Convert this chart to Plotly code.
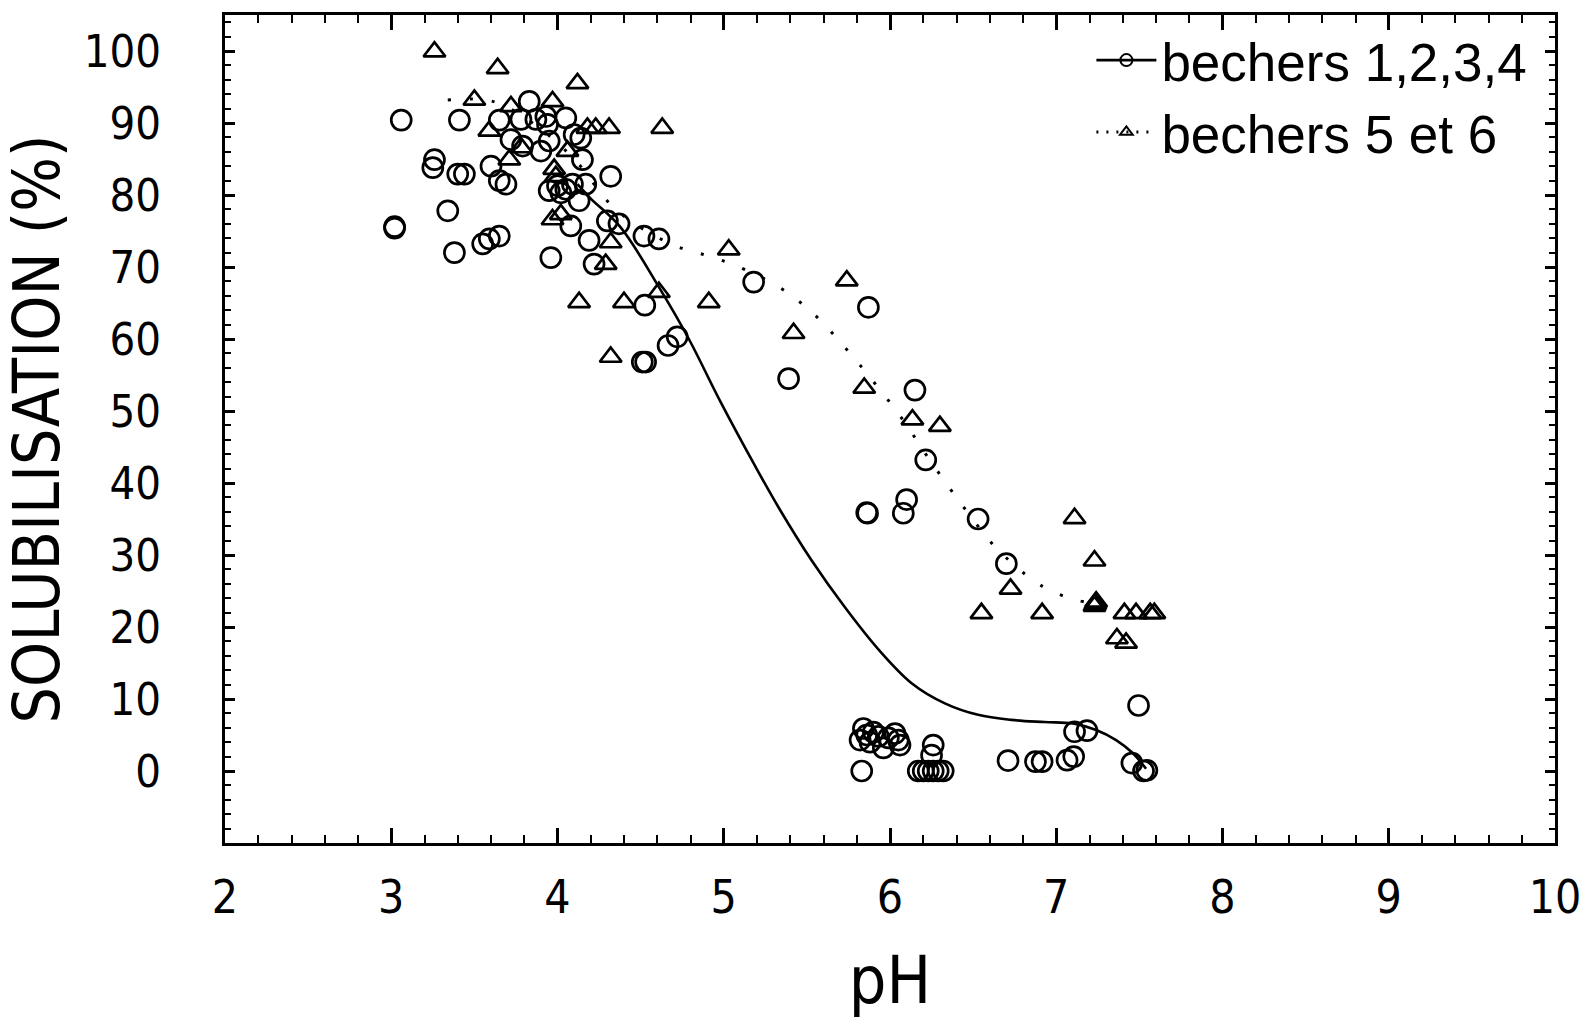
import plotly.graph_objects as go

# --- data ---
circ_ph = [3.02, 3.02, 3.06, 3.26, 3.25, 3.34, 3.38, 3.41, 3.40, 3.44,
           3.55, 3.59, 3.65, 3.60, 3.65, 3.69, 3.65, 3.72, 3.78, 3.79,
           3.83, 3.87, 3.93, 3.94, 3.90, 3.95, 3.96, 3.95, 4.00, 4.02,
           4.05, 4.09, 4.17, 4.05, 4.08, 4.10, 4.14, 4.13, 4.15, 4.19,
           4.22, 4.30, 4.37, 4.32, 4.52, 4.61, 4.525, 4.51, 4.53, 4.665,
           4.72, 5.18, 5.39, 5.87, 5.86, 5.865, 6.08, 6.10, 6.15, 6.215,
           6.53, 6.70, 7.495,
           5.82, 5.84, 5.86, 5.90, 5.93, 5.96, 6.03, 6.05, 6.06, 5.88, 5.99,
           5.83, 6.17, 6.20, 6.23, 6.26, 6.29, 6.32, 6.26, 6.25,
           6.71, 6.875, 6.915, 7.065, 7.105, 7.11, 7.185, 7.455, 7.525, 7.545]
circ_s = [75.4, 75.6, 90.4, 84.9, 83.8, 77.8, 72.0, 90.4, 82.9, 82.9,
          73.2, 73.9, 74.3, 84.0, 82.0, 81.5, 90.4, 87.7, 90.5, 86.8,
          93.0, 90.5, 90.9, 89.8, 86.1, 87.5, 71.3, 80.6, 81.3, 80.3,
          80.8, 81.5, 81.5, 90.7, 75.7, 88.4, 87.9, 79.2, 84.9, 73.7,
          70.4, 76.4, 76.0, 82.6, 74.3, 73.9, 64.7, 56.8, 56.8, 59.1,
          60.3, 67.9, 54.5, 64.4, 35.9, 35.8, 35.8, 37.7, 52.9, 43.2,
          35.0, 28.8, 9.1,
          4.3, 5.9, 5.0, 5.4, 4.8, 3.2, 5.2, 4.3, 3.6, 4.0, 4.6,
          0.0, 0.0, 0.0, 0.0, 0.0, 0.0, 0.0, 3.6, 2.2,
          1.45, 1.3, 1.3, 1.5, 2.0, 5.45, 5.6, 1.1, 0.0, 0.1]

tri_ph = [3.26, 3.64, 4.12, 3.50, 3.97, 3.72, 3.59, 4.18, 4.23, 4.31,
          4.63, 3.78, 4.06, 3.71, 3.98, 3.99, 3.97, 4.02, 4.32, 4.29,
          5.03, 4.13, 4.40, 4.61, 4.91, 4.32, 5.74, 5.42, 5.845, 6.135,
          6.30, 7.11, 7.23, 6.725, 6.55, 6.915, 7.235, 7.24, 7.23,
          7.41, 7.48, 7.565, 7.59, 7.365, 7.42]
tri_s = [99.9, 97.6, 95.5, 93.2, 93.0, 92.3, 88.9, 89.3, 89.3, 89.3,
         89.3, 86.6, 86.1, 84.9, 83.6, 82.6, 76.6, 77.3, 73.4, 70.4,
         72.4, 65.1, 65.1, 66.5, 65.1, 57.5, 68.1, 60.8, 53.2, 48.8,
         47.9, 35.1, 29.2, 25.3, 21.9, 21.9, 23.2, 23.5, 22.9,
         21.9, 21.9, 21.9, 21.9, 18.4, 17.8]

# fitted curve, bechers 1,2,3,4 (solid)
fit1_ph = [4.12, 4.20, 4.38, 4.61, 4.79, 4.98, 5.19, 5.33, 5.53, 5.73,
           5.93, 6.13, 6.33, 6.53, 6.73, 6.93, 7.10, 7.24, 7.36, 7.46, 7.54]
fit1_s = [81.5, 79.5, 75.5, 67.2, 60.0, 51.3, 42.3, 36.6, 29.2, 22.7,
          16.9, 12.2, 9.4, 7.8, 7.1, 6.8, 6.6, 5.7, 4.3, 2.5, 0.3]

# connecting curve, bechers 5 et 6 (dotted)
fit2_ph = [3.34, 3.61, 3.85, 4.10, 4.35, 4.68, 4.81, 4.94, 5.07, 5.32, 5.54,
           5.73, 5.91, 6.08, 6.23, 6.39, 6.56, 6.65, 6.86, 6.98, 7.11, 7.235]
fit2_s = [93.2, 93.0, 90.0, 85.0, 78.0, 73.2, 72.2, 71.3, 70.2, 67.4, 63.5,
          58.8, 53.8, 48.7, 43.5, 38.3, 33.1, 30.7, 26.5, 24.9, 23.8, 23.2]

x_ticks = [2, 3, 4, 5, 6, 7, 8, 9, 10]
y_ticks = [0, 10, 20, 30, 40, 50, 60, 70, 80, 90, 100]
legend_names = ["bechers 1,2,3,4", "bechers 5 et 6"]
x_title = "pH"
y_title = "SOLUBILISATION (%)"

NARROW = "Liberation Sans Narrow, DejaVu Sans Condensed, Liberation Sans, sans-serif"
REG = "Liberation Sans, Arial, sans-serif"

fig = go.Figure()
fig.add_trace(go.Scatter(x=fit1_ph, y=fit1_s, mode="lines", showlegend=False,
                         line=dict(color="black", width=2.6, shape="spline", smoothing=1.0)))
fig.add_trace(go.Scatter(x=fit2_ph, y=fit2_s, mode="lines", showlegend=False,
                         line=dict(color="black", width=3, dash="3px,19px", shape="spline")))
fig.add_trace(go.Scatter(x=circ_ph, y=circ_s, mode="markers", showlegend=False,
                         marker=dict(symbol="circle-open", size=20, color="black",
                                     line=dict(width=2.7, color="black"))))
fig.add_trace(go.Scatter(x=tri_ph, y=tri_s, mode="markers", showlegend=False,
                         marker=dict(symbol="triangle-up-open", size=19, color="black",
                                     line=dict(width=2.7, color="black"))))
# legend entries
fig.add_trace(go.Scatter(x=[None], y=[None], mode="lines+markers", name=legend_names[0],
                         line=dict(color="black", width=2.6),
                         marker=dict(symbol="circle-open", size=12, color="black",
                                     line=dict(width=2, color="black"))))
fig.add_trace(go.Scatter(x=[None], y=[None], mode="lines+markers", name=legend_names[1],
                         line=dict(color="black", width=3, dash="2px,8px"),
                         marker=dict(symbol="triangle-up-open", size=11, color="black",
                                     line=dict(width=2, color="black"))))

fig.update_layout(
    width=1593, height=1019,
    margin=dict(l=225, r=36, t=12, b=176),
    paper_bgcolor="white", plot_bgcolor="white",
    showlegend=True,
    legend=dict(x=0.983, xanchor="right", y=0.995, yanchor="top",
                font=dict(family=REG, size=53, color="black"),
                bgcolor="rgba(0,0,0,0)", itemwidth=60, tracegroupgap=0),
)
fig.update_xaxes(
    range=[2, 10], tickvals=x_ticks, ticktext=[str(v) for v in x_ticks],
    ticks="inside", ticklen=15, tickwidth=2.5, tickcolor="black",
    showline=True, linewidth=3, linecolor="black", mirror="ticks",
    showgrid=False, zeroline=False,
    minor=dict(tick0=2, dtick=0.2, ticks="inside", ticklen=8, tickwidth=2, tickcolor="black", showgrid=False),
    tickfont=dict(family=NARROW, size=46, color="black"),
    ticklabelstandoff=12,
    title=dict(text=x_title, font=dict(family=NARROW, size=66, color="black"), standoff=36),
)
fig.update_yaxes(
    range=[-10, 105], tickvals=y_ticks, ticktext=[str(v) for v in y_ticks],
    ticks="inside", ticklen=10, tickwidth=2.5, tickcolor="black",
    showline=True, linewidth=3, linecolor="black", mirror="ticks",
    showgrid=False, zeroline=False,
    minor=dict(tick0=0, dtick=2, ticks="inside", ticklen=6, tickwidth=2, tickcolor="black", showgrid=False),
    tickfont=dict(family=NARROW, size=45, color="black"),
    ticklabelstandoff=52,
    title=dict(text=y_title, font=dict(family=NARROW, size=64, color="black"), standoff=14),
)

fig.write_html("out.html")
